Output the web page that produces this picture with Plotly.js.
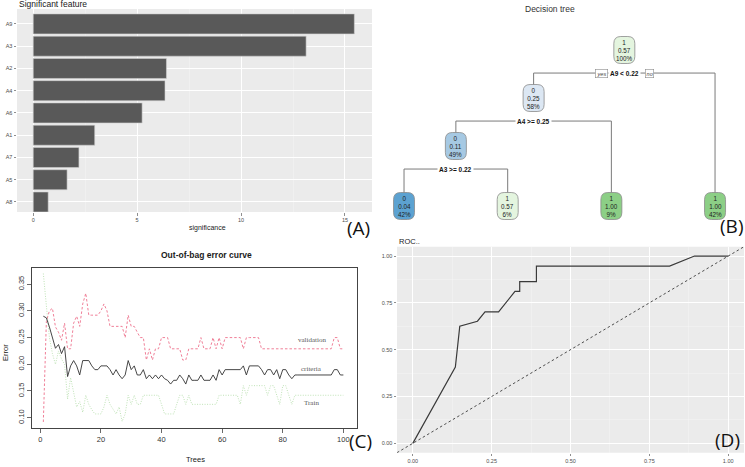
<!DOCTYPE html>
<html>
<head>
<meta charset="utf-8">
<script src="https://cdn.plot.ly/plotly-3.0.1.min.js"></script>
<style>
  html, body { margin: 0; padding: 0; background: #ffffff; }
  #chart { width: 745px; height: 467px; }
</style>
</head>
<body>
<div id="chart"></div>
<script>
// ---------- Panel A: variable importance ----------
const featureNames = ['A9', 'A3', 'A2', 'A4', 'A6', 'A1', 'A7', 'A5', 'A8'];
const featureSignificance = [15.45, 13.13, 6.41, 6.34, 5.24, 2.96, 2.20, 1.63, 0.72];

// ---------- Panel B: decision tree (rpart) ----------
const nodeParent = [-1, 0, 1, 2, 2, 1, 0];
const nodeClass = ['1', '0', '0', '0', '1', '1', '1'];
const nodeProb = [0.57, 0.25, 0.11, 0.04, 0.57, 1.00, 1.00];
const nodePct = ['100%', '58%', '49%', '42%', '6%', '9%', '42%'];
const nodeSplit = ['A9 < 0.22', 'A4 >= 0.25', 'A3 >= 0.22', '', '', '', ''];

// ---------- Panel C: out-of-bag error by number of trees ----------
const trees = Array.from({length: 100}, (_, i) => i + 1);
const criteriaError = [
  0.290, 0.287, 0.270, 0.250, 0.230, 0.237, 0.220, 0.233, 0.177, 0.197,
  0.207, 0.197, 0.180, 0.207, 0.207, 0.207, 0.197, 0.190, 0.190, 0.197,
  0.197, 0.197, 0.190, 0.180, 0.190, 0.180, 0.173, 0.180, 0.207, 0.190,
  0.197, 0.180, 0.180, 0.190, 0.173, 0.180, 0.173, 0.180, 0.173, 0.180,
  0.173, 0.170, 0.163, 0.170, 0.170, 0.180, 0.173, 0.163, 0.180, 0.170,
  0.170, 0.170, 0.180, 0.170, 0.170, 0.170, 0.180, 0.170, 0.190, 0.180,
  0.190, 0.190, 0.190, 0.190, 0.190, 0.190, 0.197, 0.180, 0.197, 0.197,
  0.197, 0.197, 0.190, 0.180, 0.190, 0.190, 0.180, 0.190, 0.173, 0.190,
  0.190, 0.180, 0.173, 0.180, 0.180, 0.180, 0.180, 0.180, 0.180, 0.180,
  0.180, 0.180, 0.180, 0.180, 0.180, 0.180, 0.190, 0.190, 0.180, 0.180
];
const validationError = [
  0.092, 0.280, 0.300, 0.305, 0.270, 0.260, 0.245, 0.277, 0.229, 0.229,
  0.277, 0.290, 0.271, 0.313, 0.333, 0.292, 0.292, 0.292, 0.292, 0.300,
  0.313, 0.300, 0.271, 0.271, 0.271, 0.271, 0.271, 0.250, 0.292, 0.271,
  0.271, 0.260, 0.250, 0.250, 0.208, 0.229, 0.208, 0.229, 0.229, 0.250,
  0.250, 0.250, 0.229, 0.229, 0.229, 0.229, 0.208, 0.208, 0.229, 0.229,
  0.229, 0.229, 0.250, 0.229, 0.229, 0.229, 0.250, 0.229, 0.250, 0.229,
  0.250, 0.250, 0.250, 0.250, 0.250, 0.250, 0.229, 0.250, 0.250, 0.250,
  0.250, 0.250, 0.229, 0.229, 0.229, 0.229, 0.229, 0.229, 0.229, 0.229,
  0.229, 0.229, 0.229, 0.229, 0.229, 0.229, 0.229, 0.229, 0.229, 0.229,
  0.229, 0.229, 0.229, 0.229, 0.229, 0.229, 0.250, 0.250, 0.229, 0.229
];
const trainError = [
  0.370, 0.310, 0.250, 0.220, 0.200, 0.225, 0.210, 0.200, 0.135, 0.175,
  0.150, 0.120, 0.130, 0.110, 0.142, 0.125, 0.115, 0.107, 0.107, 0.107,
  0.120, 0.142, 0.125, 0.115, 0.107, 0.120, 0.093, 0.107, 0.142, 0.125,
  0.142, 0.125, 0.125, 0.142, 0.142, 0.142, 0.142, 0.142, 0.142, 0.125,
  0.107, 0.107, 0.107, 0.107, 0.125, 0.142, 0.142, 0.125, 0.142, 0.125,
  0.125, 0.125, 0.125, 0.125, 0.125, 0.125, 0.125, 0.125, 0.142, 0.142,
  0.142, 0.142, 0.142, 0.142, 0.142, 0.125, 0.160, 0.142, 0.160, 0.160,
  0.160, 0.160, 0.160, 0.160, 0.142, 0.160, 0.160, 0.142, 0.125, 0.160,
  0.160, 0.142, 0.125, 0.142, 0.142, 0.142, 0.142, 0.142, 0.142, 0.142,
  0.142, 0.142, 0.142, 0.142, 0.142, 0.142, 0.142, 0.142, 0.142, 0.142
];

// ---------- Panel D: ROC curve ----------
const rocFPR = [0, 0.135, 0.149, 0.205, 0.229, 0.272, 0.324, 0.339, 0.339, 0.392, 0.392, 0.814, 0.893, 1.0];
const rocTPR = [0, 0.407, 0.625, 0.652, 0.702, 0.702, 0.811, 0.811, 0.864, 0.864, 0.946, 0.946, 1.0, 1.0];
const chanceLine = [-0.05, 1.05];

// ---------- helpers ----------
const W = 745, H = 467;
const px = x => x / W;
const py = y => 1 - y / H;
const SANS = 'Liberation Sans, Arial, sans-serif';
const SERIF = 'Liberation Serif, Times New Roman, serif';
const PANEL_TAG = 'Open Sans, DejaVu Sans, sans-serif';
const GG_GRAY = '#EBEBEB';
const GG_TEXT = '#4D4D4D';

function lerpStops(stops, t) {
  if (t <= stops[0][0]) return stops[0][1];
  for (let i = 1; i < stops.length; i++) {
    if (t <= stops[i][0]) {
      const [t0, c0] = stops[i - 1], [t1, c1] = stops[i];
      const f = (t - t0) / (t1 - t0);
      return c0.map((v, k) => Math.round(v + (c1[k] - v) * f));
    }
  }
  return stops[stops.length - 1][1];
}
// rpart.plot style fill: blues for class 0, greens for class 1, darker = purer node
function nodeFill(cls, prob) {
  let rgb;
  if (cls === '0') {
    rgb = lerpStops([[0, [247, 251, 255]], [0.5, [220, 231, 243]], [0.78, [166, 201, 227]],
                     [0.92, [92, 162, 209]], [1, [60, 130, 190]]], (0.5 - prob) / 0.5);
  } else {
    rgb = lerpStops([[0, [240, 250, 237]], [0.14, [228, 245, 223]], [1, [140, 207, 134]]], (prob - 0.5) / 0.5);
  }
  return `rgb(${rgb[0]},${rgb[1]},${rgb[2]})`;
}
function escapeText(s) {
  return s.replace(/&/g, '&amp;').replace(/</g, '&lt;').replace(/>/g, '&gt;');
}
function roundRectPath(w, h, r) {
  const a = w / 2, b = h / 2;
  return `M ${-a + r},${-b} L ${a - r},${-b} Q ${a},${-b} ${a},${-b + r} L ${a},${b - r} Q ${a},${b} ${a - r},${b} ` +
         `L ${-a + r},${b} Q ${-a},${b} ${-a},${b - r} L ${-a},${-b + r} Q ${-a},${-b} ${-a + r},${-b} Z`;
}

// ---------- tree layout: leaves evenly spaced, parents centred over children ----------
const nNodes = nodeParent.length;
const children = Array.from({length: nNodes}, () => []);
nodeParent.forEach((p, i) => { if (p >= 0) children[p].push(i); });
const nodeDepth = new Array(nNodes).fill(0);
for (let i = 0; i < nNodes; i++) {
  let d = 0, p = nodeParent[i];
  while (p >= 0) { d++; p = nodeParent[p]; }
  nodeDepth[i] = d;
}
const maxInnerDepth = Math.max(...nodeDepth.filter((d, i) => children[i].length > 0));
const leafLevel = maxInnerDepth + 1.25;
const nodeX = new Array(nNodes).fill(0);
const nodeY = new Array(nNodes).fill(0);
let leafCounter = 0;
(function place(i) {
  if (children[i].length === 0) {
    nodeX[i] = leafCounter++;
    nodeY[i] = leafLevel;
  } else {
    children[i].forEach(place);
    nodeX[i] = children[i].reduce((s, c) => s + nodeX[c], 0) / children[i].length;
    nodeY[i] = nodeDepth[i];
  }
})(0);
const splitOffset = 0.48;

// ---------- traces ----------
const traces = [];

traces.push({
  type: 'bar', orientation: 'h',
  x: featureSignificance, y: featureNames,
  xaxis: 'x', yaxis: 'y',
  width: 0.9,
  marker: {color: '#595959', line: {color: '#D0D0D0', width: 0.6}},
  hoverinfo: 'x+y'
});

// tree edges
for (let i = 0; i < nNodes; i++) {
  if (children[i].length !== 2) continue;
  const [l, r] = children[i];
  const sy = nodeY[i] + splitOffset;
  traces.push({
    type: 'scatter', mode: 'lines',
    x: [nodeX[l], nodeX[l], nodeX[r], nodeX[r]],
    y: [nodeY[l], sy, sy, nodeY[r]],
    xaxis: 'x2', yaxis: 'y2',
    line: {color: '#7A7A7A', width: 1},
    hoverinfo: 'skip'
  });
}

// out-of-bag curves
traces.push({
  type: 'scatter', mode: 'lines', x: trees, y: trainError,
  xaxis: 'x3', yaxis: 'y3', name: 'Train',
  line: {color: '#BFE3B6', width: 1, dash: '1px,1.5px'}
});
traces.push({
  type: 'scatter', mode: 'lines', x: trees, y: validationError,
  xaxis: 'x3', yaxis: 'y3', name: 'validation',
  line: {color: '#F07F98', width: 1, dash: '2.5px,2px'}
});
traces.push({
  type: 'scatter', mode: 'lines', x: trees, y: criteriaError,
  xaxis: 'x3', yaxis: 'y3', name: 'criteria',
  line: {color: '#333333', width: 0.9}
});

// ROC
traces.push({
  type: 'scatter', mode: 'lines', x: chanceLine, y: chanceLine,
  xaxis: 'x4', yaxis: 'y4',
  line: {color: '#3A3A3A', width: 0.9, dash: '2.5px,2.5px'}, hoverinfo: 'skip'
});
traces.push({
  type: 'scatter', mode: 'lines', x: rocFPR, y: rocTPR,
  xaxis: 'x4', yaxis: 'y4',
  line: {color: '#3A3A3A', width: 1.2}
});

// ---------- shapes ----------
const shapes = [
  {type: 'rect', xref: 'x domain', yref: 'y domain', x0: 0, x1: 1, y0: 0, y1: 1,
   fillcolor: GG_GRAY, line: {width: 0}, layer: 'below'},
  {type: 'rect', xref: 'x4 domain', yref: 'y4 domain', x0: 0, x1: 1, y0: 0, y1: 1,
   fillcolor: GG_GRAY, line: {width: 0}, layer: 'below'}
];
const boxPath = roundRectPath(21, 27, 7);
for (let i = 0; i < nNodes; i++) {
  shapes.push({
    type: 'path', xref: 'x2', yref: 'y2',
    xsizemode: 'pixel', ysizemode: 'pixel',
    xanchor: nodeX[i], yanchor: nodeY[i],
    path: boxPath,
    fillcolor: nodeFill(nodeClass[i], nodeProb[i]),
    line: {color: '#8A8A8A', width: 0.8},
    layer: 'above'
  });
}

// ---------- annotations ----------
const annotations = [];
function paperText(text, x, y, size, opts = {}) {
  annotations.push(Object.assign({
    text, x: px(x), y: py(y), xref: 'paper', yref: 'paper',
    showarrow: false, xanchor: 'center', yanchor: 'middle',
    font: {family: SANS, size, color: '#1A1A1A'}
  }, opts));
}
const tagFont = {family: PANEL_TAG, size: 19, color: '#111'};

paperText('Significant feature', 17, 4.5, 8.5, {xanchor: 'left'});
paperText('significance', 207, 228, 7);
paperText('(A)', 358, 228, 19, {font: tagFont});

paperText('Decision tree', 550, 9, 8.5, {font: {family: SANS, size: 8.5, color: '#333'}});
paperText('(B)', 731, 226, 19, {font: tagFont});

paperText('<b>Out-of-bag error curve</b>', 206, 255, 8.5);
paperText('Trees', 195, 459, 7.5);
paperText('Error', 5, 353, 7.5, {textangle: -90});
paperText('(C)', 360, 441, 19, {font: tagFont});

paperText('ROC..', 397, 241, 7.5, {xanchor: 'left'});
paperText('(D)', 727, 440, 19, {font: tagFont});

// series labels inside the error plot
[['validation', 89.5, 0.245], ['criteria', 89.5, 0.192], ['Train', 89.5, 0.128]].forEach(([t, x, y]) => {
  annotations.push({text: t, x, y, xref: 'x3', yref: 'y3', showarrow: false,
    font: {family: SERIF, size: 7, color: '#5A5A5A'}});
});

// tree node texts and split rules
for (let i = 0; i < nNodes; i++) {
  annotations.push({
    text: `${nodeClass[i]}<br>${nodeProb[i].toFixed(2)}<br>${nodePct[i]}`,
    x: nodeX[i], y: nodeY[i], xref: 'x2', yref: 'y2', showarrow: false,
    font: {family: SANS, size: 6.3, color: '#222'}
  });
  if (nodeSplit[i]) {
    annotations.push({
      text: `<b>${escapeText(nodeSplit[i])}</b>`,
      x: nodeX[i], y: nodeY[i] + splitOffset, xref: 'x2', yref: 'y2', showarrow: false,
      bgcolor: '#ffffff', borderpad: 1,
      font: {family: SANS, size: 6.5, color: '#111'}
    });
  }
}
[['yes', -23], ['no', 25]].forEach(([t, dx]) => {
  annotations.push({
    text: `<i>${t}</i>`, x: nodeX[0], y: nodeY[0] + splitOffset, xref: 'x2', yref: 'y2',
    xshift: dx, showarrow: false, bgcolor: '#ffffff',
    bordercolor: '#8A8A8A', borderwidth: 0.6, borderpad: 1,
    font: {family: SANS, size: 5.5, color: '#444'}
  });
});

// ---------- axes ----------
const ggTick = {family: SANS, size: 5.5, color: GG_TEXT};
const layout = {
  width: W, height: H,
  margin: {l: 0, r: 0, t: 0, b: 0},
  paper_bgcolor: '#ffffff', plot_bgcolor: 'rgba(0,0,0,0)',
  showlegend: false,
  font: {family: SANS},
  shapes, annotations,

  xaxis: {
    domain: [px(17), px(372)], anchor: 'y',
    range: [-0.78, 16.3], tickvals: [0, 5, 10, 15],
    showgrid: true, gridcolor: '#FFFFFF', gridwidth: 1,
    minor: {tickvals: [2.5, 7.5, 12.5], showgrid: true, gridcolor: '#F6F6F6', gridwidth: 0.5, ticks: ''},
    zeroline: false, ticks: 'outside', ticklen: 2.5, tickwidth: 0.6, tickcolor: '#444',
    tickfont: ggTick, showline: false
  },
  yaxis: {
    domain: [py(212), py(9)], anchor: 'x',
    type: 'category', range: [8.45, -0.67],
    showgrid: true, gridcolor: '#FFFFFF', gridwidth: 1,
    zeroline: false, ticks: 'outside', ticklen: 2.5, tickwidth: 0.6, tickcolor: '#444',
    tickfont: ggTick, showline: false
  },

  xaxis2: {
    domain: [px(372), 1], anchor: 'y2',
    range: [-0.309, 3.289], visible: false, fixedrange: true
  },
  yaxis2: {
    domain: [py(230), 1], anchor: 'x2',
    range: [3.75, -1.042], visible: false, fixedrange: true
  },

  xaxis3: {
    domain: [px(32), px(357)], anchor: 'y3',
    range: [-2.74, 104.5], tickvals: [0, 20, 40, 60, 80, 100],
    showgrid: false, zeroline: false,
    showline: true, mirror: true, linecolor: '#444', linewidth: 1,
    ticks: 'outside', ticklen: 4, tickwidth: 0.8, tickcolor: '#444',
    tickfont: {family: SANS, size: 7.5, color: '#333'}
  },
  yaxis3: {
    domain: [py(428), py(268)], anchor: 'x3',
    range: [0.0807, 0.3803], tickvals: [0.10, 0.15, 0.20, 0.25, 0.30, 0.35],
    tickformat: '.2f', tickangle: -90,
    showgrid: false, zeroline: false,
    showline: true, mirror: true, linecolor: '#444', linewidth: 1,
    ticks: 'outside', ticklen: 4, tickwidth: 0.8, tickcolor: '#444',
    tickfont: {family: SANS, size: 7.5, color: '#333'}
  },

  xaxis4: {
    domain: [px(397), px(744)], anchor: 'y4',
    range: [-0.05, 1.05], tickvals: [0, 0.25, 0.5, 0.75, 1], tickformat: '.2f',
    showgrid: true, gridcolor: '#FFFFFF', gridwidth: 1,
    minor: {tickvals: [0.125, 0.375, 0.625, 0.875], showgrid: true, gridcolor: '#F6F6F6', gridwidth: 0.5, ticks: ''},
    zeroline: false, ticks: 'outside', ticklen: 2.5, tickwidth: 0.6, tickcolor: '#444',
    tickfont: ggTick
  },
  yaxis4: {
    domain: [py(452.7), py(246.7)], anchor: 'x4',
    range: [-0.05, 1.05], tickvals: [0, 0.25, 0.5, 0.75, 1], tickformat: '.2f',
    showgrid: true, gridcolor: '#FFFFFF', gridwidth: 1,
    minor: {tickvals: [0.125, 0.375, 0.625, 0.875], showgrid: true, gridcolor: '#F6F6F6', gridwidth: 0.5, ticks: ''},
    zeroline: false, ticks: 'outside', ticklen: 2.5, tickwidth: 0.6, tickcolor: '#444',
    tickfont: ggTick
  }
};

Plotly.newPlot('chart', traces, layout, {displayModeBar: false, staticPlot: true});
</script>
</body>
</html>
